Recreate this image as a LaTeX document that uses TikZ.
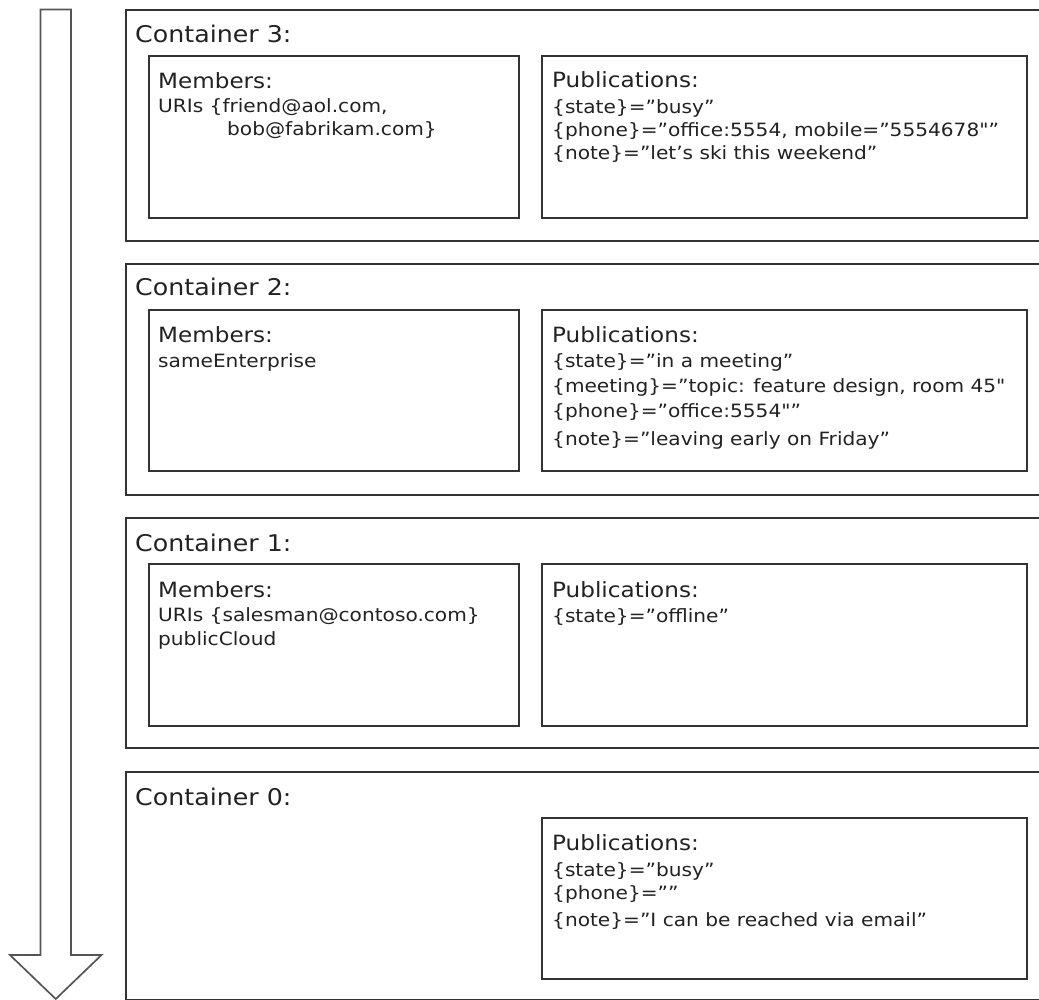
\documentclass[tikz,border=0pt]{standalone}
\usepackage{fontspec}
\newfontfamily\vfont{DejaVu Sans}[FakeStretch=1.1]
\definecolor{linec}{HTML}{333333}
\definecolor{arrc}{HTML}{555555}
\definecolor{txtc}{HTML}{222222}
\begin{document}
\begin{tikzpicture}[x=1pt,y=-1pt,
  container/.style={draw=linec, line width=1.8pt, anchor=north west, minimum width=930pt, inner sep=0pt},
  inbox/.style={draw=linec, line width=1.8pt, anchor=north west, inner sep=0pt},
  ttl/.style={anchor=base west, inner sep=0pt, text=txtc, font=\vfont\fontsize{23}{27}\selectfont},
  hdr/.style={anchor=base west, inner sep=0pt, text=txtc, font=\vfont\fontsize{21}{25}\selectfont},
  txt/.style={anchor=base west, inner sep=0pt, text=txtc, font=\vfont\fontsize{18.3}{22}\selectfont}]
\useasboundingbox (0,0) rectangle (1039,1000);
\clip (0,0) rectangle (1039,1000);
\fill[white] (0,0) rectangle (1039,1000);
% arrow
\draw[arrc, line width=1.7pt, line join=miter, fill=white]
  (40.5,9.5) -- (71,9.5) -- (71,955) -- (101.5,955) -- (55.75,999) -- (10,955) -- (40.5,955) -- cycle;
% containers
\node[container, minimum height=231pt] (c3) at (125,9) {};
\node[container, minimum height=231pt] (c2) at (125,263) {};
\node[container, minimum height=230pt] (c1) at (125,517) {};
\node[container, minimum height=228pt] (c0) at (125,771) {};
\node[ttl] (t3) at (135,43) {Container 3:};
\node[ttl] (t2) at (135,296) {Container 2:};
\node[ttl] (t1) at (135,551) {Container 1:};
\node[ttl] (t0) at (135,805) {Container 0:};
% inner boxes
\node[inbox, minimum width=370pt, minimum height=162pt] (m3) at (148,55) {};
\node[inbox, minimum width=485pt, minimum height=162pt] (p3) at (541,55) {};
\node[inbox, minimum width=370pt, minimum height=161pt] (m2) at (148,309) {};
\node[inbox, minimum width=485pt, minimum height=161pt] (p2) at (541,309) {};
\node[inbox, minimum width=370pt, minimum height=162pt] (m1) at (148,563) {};
\node[inbox, minimum width=485pt, minimum height=162pt] (p1) at (541,563) {};
\node[inbox, minimum width=485pt, minimum height=161pt] (p0) at (541,817) {};
% container 3 texts
\node[hdr] (m3h) at (158,89) {Members:};
\node[txt] (m3a) at (158,113) {URIs \{friend@aol.com,};
\node[txt] (m3b) at (227,136) {bob@fabrikam.com\}};
\node[hdr] (p3h) at (552,88) {Publications:};
\node[txt] (p3a) at (552,114) {\{state\}=”busy”};
\node[txt] (p3b) at (552,137) {\{phone\}=”office:5554, mobile=”5554678"”};
\node[txt] (p3c) at (552,160) {\{note\}=”let’s ski this weekend”};
% container 2 texts
\node[hdr] (m2h) at (158,342) {Members:};
\node[txt] (m2a) at (158,367) {sameEnterprise};
\node[hdr] (p2h) at (552,342) {Publications:};
\node[txt] (p2a) at (552,367) {\{state\}=”in a meeting”};
\node[txt] (p2b) at (552,392) {\{meeting\}=”topic: feature design, room 45"};
\node[txt] (p2c) at (552,417) {\{phone\}=”office:5554"”};
\node[txt] (p2d) at (552,445) {\{note\}=”leaving early on Friday”};
% container 1 texts
\node[hdr] (m1h) at (158,597) {Members:};
\node[txt] (m1a) at (158,621) {URIs \{salesman@contoso.com\}};
\node[txt] (m1b) at (158,645) {publicCloud};
\node[hdr] (p1h) at (552,597) {Publications:};
\node[txt] (p1a) at (552,622) {\{state\}=”offline”};
% container 0 texts
\node[hdr] (p0h) at (552,850) {Publications:};
\node[txt] (p0a) at (552,876) {\{state\}=”busy”};
\node[txt] (p0b) at (552,899) {\{phone\}=””};
\node[txt] (p0c) at (552,926) {\{note\}=”I can be reached via email”};
\end{tikzpicture}
\end{document}
